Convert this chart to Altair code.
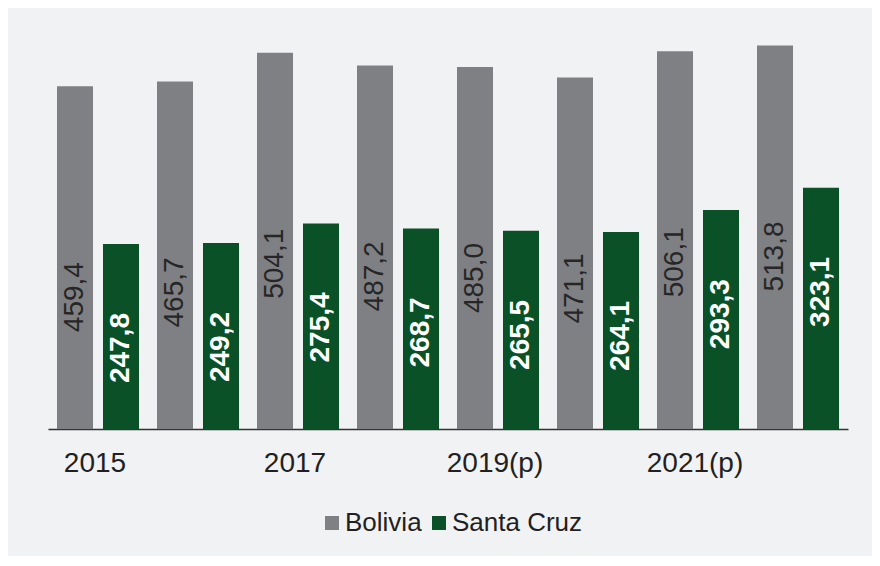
import altair as alt
import pandas as pd

# ---- data ----
years = ["2015", "2016", "2017", "2018", "2019(p)", "2020(p)", "2021(p)", "2022(p)"]
bolivia = [459.4, 465.7, 504.1, 487.2, 485.0, 471.1, 506.1, 513.8]
santa_cruz = [247.8, 249.2, 275.4, 268.7, 265.5, 264.1, 293.3, 323.1]
series_names = ["Bolivia", "Santa Cruz"]
shown_ticks = ["2015", "2017", "2019(p)", "2021(p)"]


def fmt(v):
    return f"{v:.1f}".replace(".", ",")


rows = []
for y, b, s in zip(years, bolivia, santa_cruz):
    rows.append({"year": y, "serie": series_names[0], "value": b, "label": fmt(b)})
    rows.append({"year": y, "serie": series_names[1], "value": s, "label": fmt(s)})
df = pd.DataFrame(rows)

FONT = "Liberation Sans"
GRAY = "#7f8083"
GREEN = "#0a5128"

x_enc = alt.X(
    "year:N",
    sort=years,
    title=None,
    scale=alt.Scale(paddingInner=0.18, paddingOuter=0.09),
    axis=alt.Axis(
        values=shown_ticks,
        labelAngle=0,
        ticks=False,
        labelFont=FONT,
        labelFontSize=28,
        labelColor="#231f20",
        labelPadding=20,
        labelOffset=-3,
        domainColor="#333333",
        domainWidth=1.5,
        grid=False,
    ),
)
xoff = alt.XOffset("serie:N", sort=series_names, scale=alt.Scale(paddingInner=0.217, paddingOuter=0))
y_enc = alt.Y("value:Q", scale=alt.Scale(domain=[0, 540], nice=False), axis=None)

base = alt.Chart(df)

bars = base.mark_bar().encode(
    x=x_enc,
    xOffset=xoff,
    y=y_enc,
    color=alt.Color(
        "serie:N",
        sort=series_names,
        scale=alt.Scale(domain=series_names, range=[GRAY, GREEN]),
        legend=alt.Legend(
            title=None,
            orient="none",
            direction="horizontal",
            legendX=271,
            legendY=484,
            symbolType="square",
            symbolSize=196,
            symbolStrokeWidth=0,
            labelFont=FONT,
            labelFontSize=26,
            labelColor="#231f20",
            labelOffset=0,
            columnPadding=4,
        ),
    ),
)

txt_bol = base.transform_filter(alt.datum.serie == "Bolivia").mark_text(
    angle=270, align="center", baseline="middle", dx=-211,
    font=FONT, fontSize=28, color="#262626"
).encode(x=x_enc, xOffset=xoff, y=y_enc, text="label:N")

txt_sc = base.transform_filter(alt.datum.serie == "Santa Cruz").mark_text(
    angle=270, align="center", baseline="middle", dx=-104,
    font=FONT, fontSize=28, fontWeight="bold", color="white"
).encode(x=x_enc, xOffset=xoff, y=y_enc, text="label:N")

chart = alt.layer(bars, txt_bol, txt_sc).properties(
    width=800,
    height=403,
    autosize=alt.AutoSizeParams(type="none"),
    padding={"left": 40, "top": 18, "right": 24, "bottom": 127},
    background="#f1f2f4",
).configure_view(stroke=None)

chart.save("out.html", embed_options={"renderer": "svg", "actions": False})
